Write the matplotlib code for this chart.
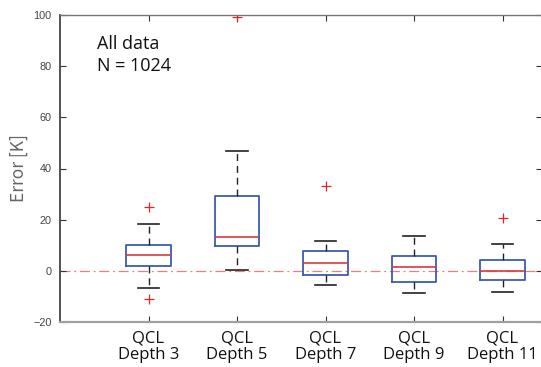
import matplotlib
matplotlib.use("Agg")
import matplotlib.pyplot as plt

categories = ["QCL\nDepth 3", "QCL\nDepth 5", "QCL\nDepth 7", "QCL\nDepth 9", "QCL\nDepth 11"]
medians = [6.1, 13.1, 3.0, 1.6, 0.0]
q1 = [1.9, 9.6, -1.5, -4.5, -3.6]
q3 = [10.2, 29.4, 7.9, 5.9, 4.3]
whislo = [-6.8, 0.2, -5.6, -8.6, -8.2]
whishi = [18.3, 46.8, 11.5, 13.7, 10.6]
fliers = [[25.1, -11.1], [99.1], [33.3], [], [20.6]]
yticks = [-20, 0, 20, 40, 60, 80, 100]

W, H = 541, 367
fig = plt.figure(figsize=(W / 100, H / 100), dpi=100)
ax = fig.add_axes([60 / W, (H - 322) / H, (541.5 - 60) / W, 307 / H])

stats = []
for i in range(len(categories)):
    stats.append(dict(med=medians[i], q1=q1[i], q3=q3[i], whislo=whislo[i],
                      whishi=whishi[i], fliers=fliers[i]))

ax.axhline(0, color="#e48080", lw=0.9, ls=(0, (8, 3, 1.5, 3)), zorder=0)

positions = list(range(1, len(categories) + 1))
ax.bxp(stats, positions=positions, widths=0.5, showfliers=True,
       boxprops=dict(color="#3a5cb0", lw=1.3),
       medianprops=dict(color="#d93a3a", lw=1.2),
       whiskerprops=dict(color="#222222", lw=1.0, ls=(0, (5, 3.5))),
       capprops=dict(color="#222222", lw=1.2),
       capwidths=0.24,
       flierprops=dict(marker="+", markeredgecolor="#e8202a", markersize=7, mew=0.9))

ax.set_xlim(0, 5.44)
ax.set_ylim(-20, 100)
ax.set_yticks(yticks)
ax.set_yticklabels([str(t).replace("-", "\u2212") for t in yticks],
                   fontfamily="Liberation Sans", fontsize=7.8, color="#444444")
ax.set_xticks(positions)
ax.set_xticklabels(categories, fontfamily="Open Sans", fontsize=12, color="#111111",
                   linespacing=1.02)
ax.tick_params(axis="x", direction="in", length=4, top=True, color="#333333", pad=6)
ax.tick_params(axis="y", direction="in", length=4, right=True, color="#333333", pad=6)

ax.spines["left"].set_color("#444444")
ax.spines["left"].set_linewidth(1.3)
ax.spines["bottom"].set_color("#a0a0a0")
ax.spines["bottom"].set_linewidth(1.6)
ax.spines["top"].set_color("#777777")
ax.spines["top"].set_linewidth(1.0)
ax.spines["right"].set_visible(False)

ax.set_ylabel("Error [K]", fontfamily=["Noto Sans CJK JP", "DejaVu Sans"], fontsize=12.5,
              color="#666666", labelpad=4)

ax.text(0.076, 0.935, "All data\nN = 1024", transform=ax.transAxes, fontfamily="Open Sans",
        fontsize=13, color="#111111", va="top", ha="left", linespacing=1.3)

fig.savefig("out.png", dpi=100)
